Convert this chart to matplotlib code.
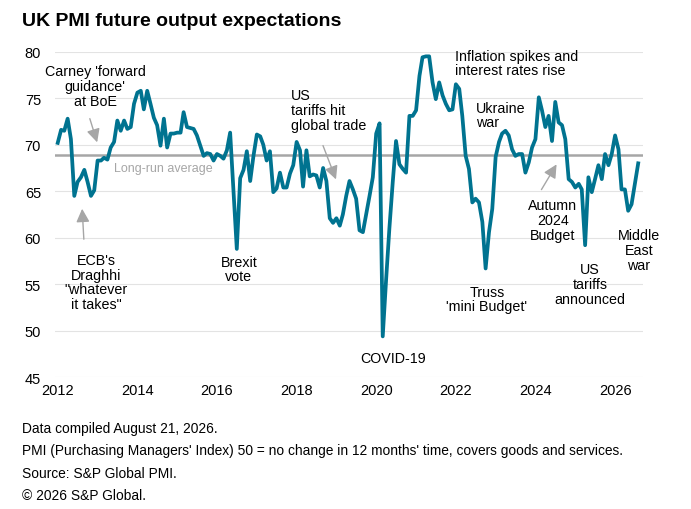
import numpy as np
import pandas as pd
import matplotlib
matplotlib.use("Agg")
import matplotlib.pyplot as plt
import matplotlib.dates as mdates

plt.rcParams['font.family'] = ['Liberation Sans', 'DejaVu Sans']

# Monthly index values, Jan 2012 - Aug 2026
pmi = [
    70.2, 71.6, 71.5, 72.8, 70.6, 64.5, 66.0, 66.5, 67.3, 66.0, 64.5, 65.1,   # 2012
    68.3, 68.3, 68.6, 68.4, 69.7, 70.3, 72.6, 71.5, 72.6, 71.7, 71.9, 74.4,   # 2013
    75.6, 75.8, 73.8, 75.8, 74.4, 72.9, 72.1, 69.9, 72.8, 69.7, 71.2, 71.2,   # 2014
    71.3, 71.3, 73.5, 71.9, 71.8, 71.7, 71.0, 69.9, 68.8, 69.1, 69.0, 68.3,   # 2015
    69.0, 68.8, 68.5, 69.4, 71.3, 65.0, 58.8, 66.4, 67.3, 69.3, 66.1, 68.8,   # 2016
    71.1, 70.9, 70.0, 68.3, 69.3, 64.9, 65.3, 67.0, 65.4, 65.4, 66.9, 67.8,   # 2017
    70.3, 69.4, 65.5, 69.4, 66.6, 66.8, 66.7, 65.4, 67.5, 66.1, 62.1, 61.6,   # 2018
    62.1, 61.3, 62.5, 64.5, 66.1, 65.2, 64.2, 60.8, 60.6, 62.5, 64.5, 66.5,   # 2019
    71.2, 72.3, 49.4, 55.5, 61.0, 66.0, 70.4, 67.9, 67.4, 67.0, 73.1, 73.1,   # 2020
    73.7, 77.4, 79.4, 79.5, 79.5, 76.7, 74.9, 76.7, 75.3, 74.4, 73.7, 73.8,   # 2021
    76.5, 76.0, 73.1, 68.8, 67.4, 63.8, 64.2, 63.8, 61.7, 56.7, 60.6, 63.1,   # 2022
    68.7, 70.3, 71.2, 71.5, 71.0, 69.5, 68.8, 69.0, 69.0, 67.0, 68.1, 69.7,   # 2023
    70.6, 75.1, 73.7, 71.9, 73.1, 70.4, 74.6, 72.4, 72.1, 70.6, 66.3, 66.0,   # 2024
    65.4, 65.8, 65.2, 59.2, 66.5, 64.9, 66.3, 67.8, 66.3, 69.0, 67.8, 69.0,   # 2025
    71.0, 69.5, 65.2, 65.2, 62.9, 63.6, 65.8, 68.0,                           # 2026
]
dates = pd.date_range('2012-01-01', periods=len(pmi), freq='MS')
long_run_avg = 68.9

year_ticks = [2012, 2014, 2016, 2018, 2020, 2022, 2024, 2026]
y_ticks = [45, 50, 55, 60, 65, 70, 75, 80]

line_col = '#007390'
grey = '#a6a6a6'

fig = plt.figure(figsize=(6.91, 5.10), dpi=100)
ax = fig.add_axes([55 / 691, 1 - 378.3 / 510, (643 - 55) / 691, (378.3 - 52.7) / 510])

for y in y_ticks:
    ax.axhline(y, color='#e3e3e3', lw=0.8, zorder=1)
ax.axhline(long_run_avg, color=grey, lw=1.8, zorder=2)
ax.plot(dates, pmi, color=line_col, lw=2.7, zorder=3, solid_joinstyle='round')

ax.set_ylim(45, 80)
ax.set_xlim(pd.Timestamp('2011-12-07'), pd.Timestamp('2026-09-14'))
ax.set_yticks(y_ticks)
ax.set_xticks([pd.Timestamp(f'{y}-01-01') for y in year_ticks])
ax.xaxis.set_major_formatter(mdates.DateFormatter('%Y'))
ax.tick_params(axis='both', length=0, labelsize=10.5, colors='black')
ax.tick_params(axis='y', pad=10)
ax.tick_params(axis='x', pad=4)
for s in ax.spines.values():
    s.set_visible(False)
ax.set_facecolor('none')

# annotations
def note(x, y, txt, ha='center'):
    ax.annotate(txt, xy=(x, y), xycoords='figure pixels', ha=ha, va='center',
                fontsize=10.3, linespacing=1.05)

def px(x, y):
    return (x, 510 - y)

def arrow(x0, y0, x1, y1):
    ax.annotate('', xy=px(x1, y1), xycoords='figure pixels',
                xytext=px(x0, y0), textcoords='figure pixels',
                arrowprops=dict(arrowstyle='-|>,head_length=0.8,head_width=0.4',
                                color=grey, lw=1.0))

note(*px(95, 87), "Carney 'forward\nguidance'\nat BoE")
arrow(89, 117, 98, 146)
note(*px(96, 283), "ECB's\nDraghhi\n\"whatever\nit takes\"")
arrow(84, 243, 82, 207)
note(*px(239, 270), "Brexit\nvote")
note(*px(291, 111), "US\ntariffs hit\nglobal trade", ha='left')
arrow(322, 144, 337, 183)
note(*px(393, 359), "COVID-19")
note(*px(455, 64), "Inflation spikes and\ninterest rates rise", ha='left')
note(*px(476, 116), "Ukraine\nwar", ha='left')
note(*px(487, 300), "Truss\n'mini Budget'")
note(*px(553, 221), "Autumn\n2024\nBudget")
arrow(540, 193, 558, 163)
note(*px(590, 285), "US\ntariffs\nannounced")
note(*px(639, 251), "Middle\nEast\nwar")

ax.annotate('Long-run average', xy=px(163, 169), xycoords='figure pixels',
            ha='center', va='center', fontsize=9, color=grey)

fig.text(22 / 691, 1 - 22 / 510, 'UK PMI future output expectations',
         fontsize=14, fontweight='bold', va='center', ha='left')

foot = ["Data compiled August 21, 2026.",
        "PMI (Purchasing Managers' Index) 50 = no change in 12 months' time, covers goods and services.",
        "Source: S&P Global PMI.",
        "\u00a9 2026 S&P Global."]
for i, t in enumerate(foot):
    fig.text(22 / 691, 1 - (429 + 22.4 * i) / 510, t, fontsize=9.9, va='center', ha='left')

fig.savefig('out.png', dpi=100)
